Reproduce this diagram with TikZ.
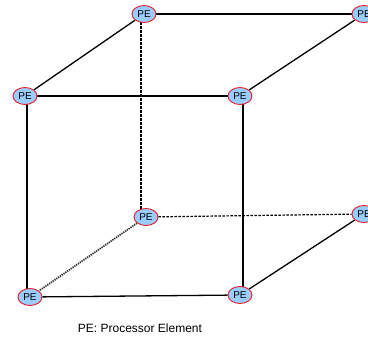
\documentclass[tikz,border=0pt]{standalone}
\usepackage{fontspec}
\setmainfont{Liberation Sans}
\usetikzlibrary{shapes.geometric,backgrounds}
\definecolor{pefill}{RGB}{153,204,255}
\definecolor{peedge}{RGB}{230,30,40}
\tikzset{
  pe/.style={ellipse, draw=peedge, fill=pefill, line width=0.9pt,
    minimum width=24pt, minimum height=17pt, inner sep=0pt,
    font=\fontsize{10}{10}\selectfont},
  edge/.style={line width=1.3pt, black},
  hidden/.style={line width=1.2pt, black, dash pattern=on 2.5pt off 1.5pt},
  hiddenfine/.style={line width=1.7pt, black!80, dash pattern=on 1.3pt off 0.9pt}
}
\begin{document}
\begin{tikzpicture}[x=1pt,y=-1pt]
\useasboundingbox (0,0) rectangle (368,338);
% processor elements at the cube corners
\node[pe] (A) at (144,14) {PE};
\node[pe] (B) at (364,14) {PE};
\node[pe] (C) at (25,96) {PE};
\node[pe] (D) at (240,96) {PE};
\node[pe] (E) at (146,217) {PE};
\node[pe] (F) at (364,214) {PE};
\node[pe] (G) at (30,297) {PE};
\node[pe] (H) at (240,295) {PE};
% x positions of the vertical edges
\coordinate (xl) at (27,0);
\coordinate (xm) at (141,0);
\coordinate (xr) at (243,0);
\begin{scope}[on background layer]
% visible edges
\draw[edge] (A) -- (B);
\draw[edge] (A) -- (C);
\draw[edge] (B) -- (D);
\draw[edge] (C.east) -- (D.west);
\draw[edge] (xl |- C.center) -- (xl |- G.center);
\draw[edge] (xr |- D.center) -- (xr |- H.center);
\draw[edge] (G) -- (H);
\draw[edge] (H) -- (F);
% hidden edges
\draw[hidden] (xm |- A.center) -- (xm |- E.center);
\draw[hidden] (E) -- (F);
\draw[hiddenfine] (E) -- (G);
\end{scope}
\node[font=\fontsize{12}{12}\selectfont] (cap) at (140,328) {PE: Processor Element};
\end{tikzpicture}
\end{document}
